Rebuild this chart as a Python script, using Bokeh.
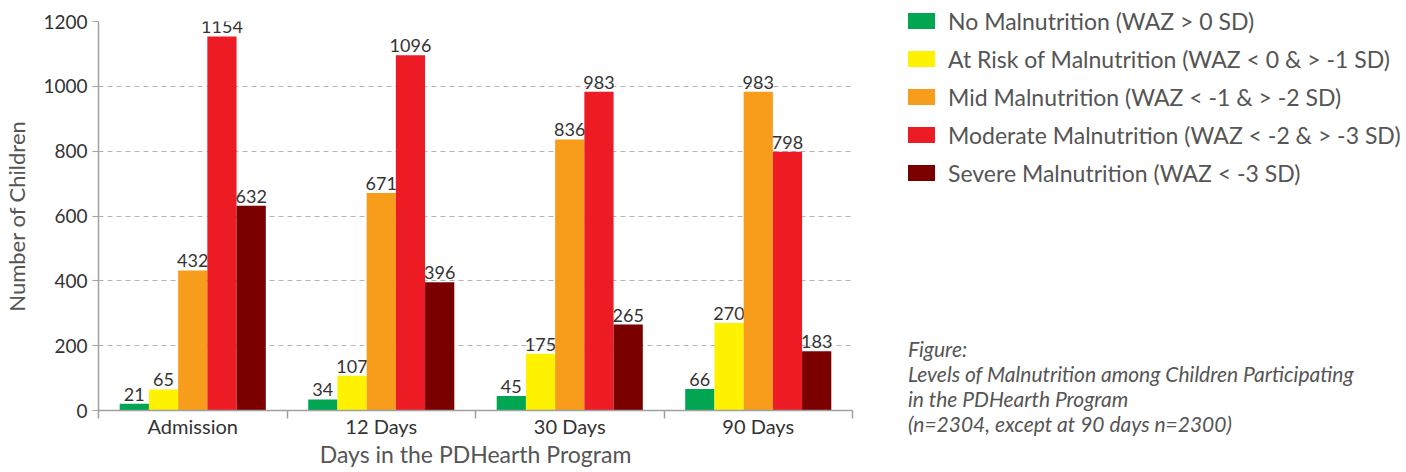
import html
from bokeh.plotting import figure
from bokeh.models import Range1d, FixedTicker, ColumnDataSource, Div
from bokeh.layouts import column
from bokeh.transform import dodge
from bokeh.core.properties import value
from bokeh.embed import file_html
from bokeh.resources import INLINE

# ---- data ----
categories = ["Admission", "12 Days", "30 Days", "90 Days"]
no_malnutrition = [21, 34, 45, 66]
at_risk = [65, 107, 175, 270]
mid_malnutrition = [432, 671, 836, 983]
moderate_malnutrition = [1154, 1096, 983, 798]
severe_malnutrition = [632, 396, 265, 183]

series_names = [
    "No Malnutrition (WAZ > 0 SD)",
    "At Risk of Malnutrition (WAZ < 0 & > -1 SD)",
    "Mid Malnutrition (WAZ < -1 & > -2 SD)",
    "Moderate Malnutrition (WAZ < -2 & > -3 SD)",
    "Severe Malnutrition (WAZ < -3 SD)",
]
series_values = [no_malnutrition, at_risk, mid_malnutrition,
                 moderate_malnutrition, severe_malnutrition]
colors = ["#00a651", "#fff200", "#f89c1c", "#ed1c24", "#7a0000"]
y_ticks = [0, 200, 400, 600, 800, 1000, 1200]

caption_lines = ["Figure:",
                 "Levels of Malnutrition among Children Participating",
                 "in the PDHearth Program",
                 "(n=2304, except at 90 days n=2300)"]

FONT = "Lato"

centers = [i + 0.5 for i in range(len(categories))]
data = {"x": centers}
for k, vals in enumerate(series_values):
    data[f"s{k}"] = vals
    data[f"t{k}"] = [str(v) for v in vals]
source = ColumnDataSource(data)

p = figure(width=1390, height=470, output_backend="svg", toolbar_location=None,
           x_range=Range1d(0, len(categories)), y_range=Range1d(0, 1200),
           min_border_left=96, min_border_right=538, min_border_top=21,
           min_border_bottom=56)
p.outline_line_color = None

bw = 0.155
offsets = [-2 * bw, -bw, 0, bw, 2 * bw]
for k in range(5):
    p.vbar(x=dodge("x", offsets[k], range=p.x_range), top=f"s{k}",
           width=bw, source=source, fill_color=colors[k], line_color=None)
    p.text(x=dodge("x", offsets[k], range=p.x_range), y=f"s{k}", text=f"t{k}",
           source=source, text_align="center", text_baseline="bottom",
           y_offset=-3, text_font=value(FONT), text_font_size="18px",
           text_color="#333333")

# axes
p.xaxis.ticker = FixedTicker(ticks=centers, minor_ticks=list(range(len(categories) + 1)))
p.xaxis.major_label_overrides = {c: lab for c, lab in zip(centers, categories)}
p.xaxis.major_tick_line_color = None
p.xaxis.major_tick_in = 0
p.xaxis.major_tick_out = 0
p.xaxis.minor_tick_line_color = "#a0a0a0"
p.xaxis.minor_tick_in = 0
p.xaxis.minor_tick_out = 8
p.xaxis.minor_tick_line_width = 1.5
p.xaxis.axis_line_color = "#a0a0a0"
p.xaxis.axis_line_width = 1.5
p.xaxis.major_label_standoff = -5
p.xaxis.axis_label = "Days in the PDHearth Program"
p.xaxis.axis_label_standoff = -1

p.yaxis.ticker = FixedTicker(ticks=y_ticks, minor_ticks=[])
p.yaxis.major_tick_in = 0
p.yaxis.major_tick_out = 6
p.yaxis.major_tick_line_color = "#a0a0a0"
p.yaxis.axis_line_color = "#a0a0a0"
p.yaxis.axis_line_width = 1.5
p.yaxis.major_label_standoff = 5
p.yaxis.axis_label = "Number of Children"
p.yaxis.axis_label_standoff = 10

for ax in (p.xaxis, p.yaxis):
    ax.major_label_text_font = FONT
    ax.major_label_text_color = "#333333"
    ax.axis_label_text_font = FONT
    ax.axis_label_text_font_style = "normal"
    ax.axis_label_text_color = "#555555"
p.xaxis.major_label_text_font_size = "20px"
p.yaxis.major_label_text_font_size = "19px"
p.xaxis.axis_label_text_font_size = "23px"
p.yaxis.axis_label_text_font_size = "22px"

p.xgrid.grid_line_color = None
p.ygrid.ticker = FixedTicker(ticks=y_ticks[1:])
p.ygrid.grid_line_color = "#b4b4b4"
p.ygrid.grid_line_dash = "5 4"
p.ygrid.grid_line_width = 1.2

# legend + caption (HTML text overlaid to the right of the plot)
rows = "".join(
    f'<div style="display:flex;align-items:center;height:38px;white-space:nowrap;">'
    f'<span style="display:inline-block;flex:none;width:27px;height:16px;'
    f'background:{c};margin-right:13px;"></span>{html.escape(n)}</div>'
    for n, c in zip(series_names, colors))
cap = "".join(f'<div style="height:25px;line-height:25px;white-space:nowrap;">'
              f'{html.escape(l)}</div>' for l in caption_lines)
side_html = (
    f'<div style="position:relative;width:495px;height:440px;font-family:{FONT};'
    f'color:#555555;">'
    f'<div style="position:absolute;left:0;top:2px;font-size:23px;">{rows}</div>'
    f'<div style="position:absolute;left:0;top:336px;font-size:21px;'
    f'font-style:italic;">{cap}</div></div>')
side = Div(text=side_html, width=495, height=440, margin=0,
           styles={"position": "absolute", "left": "908px", "top": "0px"})

open("out.html", "w").write(file_html(column(p, side), INLINE))
